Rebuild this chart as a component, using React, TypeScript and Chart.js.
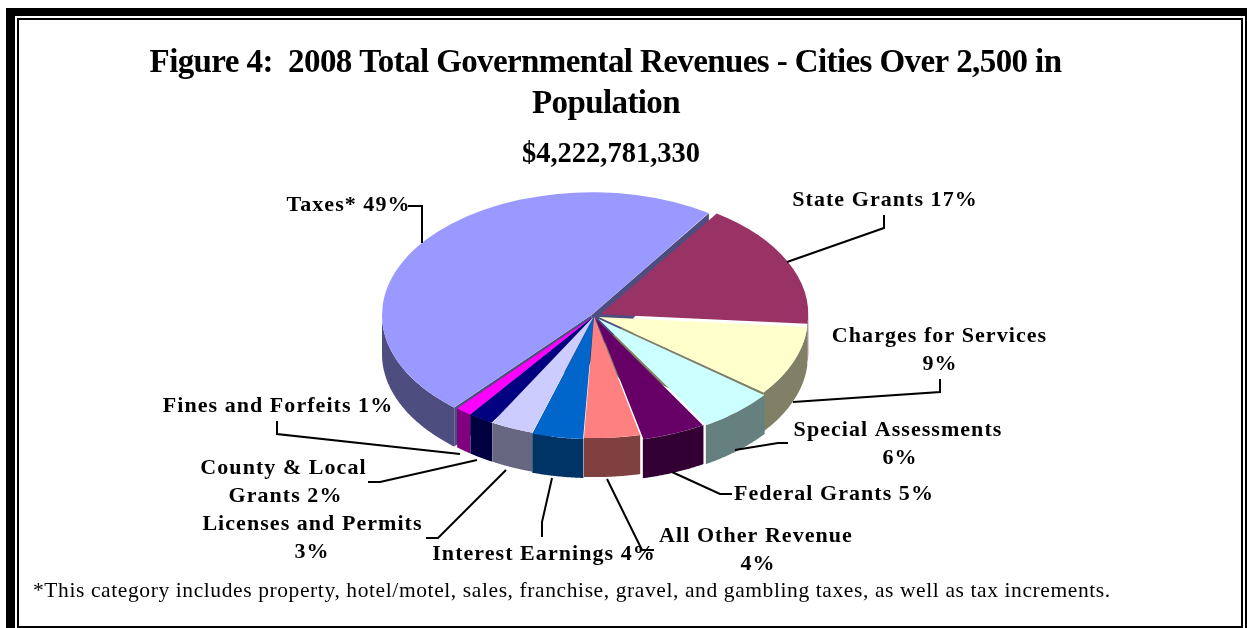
import React, { useEffect, useRef } from "react";
import { Chart, registerables } from "chart.js";

Chart.register(...registerables);

const categories = ["State Grants", "Charges for Services", "Special Assessments", "Federal Grants", "All Other Revenue", "Interest Earnings", "Licenses and Permits", "County & Local Grants", "Fines and Forfeits", "Taxes*"];
const shares = [17, 9.4, 6, 5, 4.4, 4, 3.4, 2, 1.3, 48.6];
const topColors = ["#993366", "#FFFFCC", "#CCFFFF", "#660066", "#FF8080", "#0066CC", "#CCCCFF", "#000080", "#FF00FF", "#9999FF"];
const wallColors = ["#4D1A33", "#808066", "#668080", "#330033", "#804040", "#003366", "#666680", "#000040", "#800080", "#4D4D80"];
const explode = [28, 20, 26, 22, 4, 8, 4, 4, 4, 12];
const endFaceExtent = [0.16, 1, 0.3, 0, 0, 1, 0, 0, 0, 1];
const endFaceColors = ["#4D4D80", "#808066", "#808066", "", "", "#003366", "", "", "", "#4D4D80"];

const titleLines = ["Figure 4:  2008 Total Governmental Revenues - Cities Over 2,500 in", "Population"];
const subtitle = "$4,222,781,330";
const footnote = "*This category includes property, hotel/motel, sales, franchise, gravel, and gambling taxes, as well as tax increments.";

const CX = 594, CY = 316, RADIUS = 207, SQUASH = 0.585, DEPTH = 39;

const labelLayout: [string, number, number][] = [
  ["Taxes* 49%", 348.5, 211],
  ["State Grants 17%", 885, 206],
  ["Charges for Services", 939.5, 342],
  ["9%", 940, 370],
  ["Special Assessments", 898, 436],
  ["6%", 900, 464],
  ["Federal Grants 5%", 834, 500],
  ["All Other Revenue", 756, 542],
  ["4%", 758, 570],
  ["Interest Earnings 4%", 544, 560],
  ["Licenses and Permits", 312.5, 530],
  ["3%", 312, 558],
  ["County & Local", 283.5, 474],
  ["Grants 2%", 285.5, 502],
  ["Fines and Forfeits 1%", 278, 412],
];

const leaderLayout: [number, number][][] = [
  [[408, 206], [422, 206], [422, 243]],
  [[787, 262], [884, 228], [884, 215]],
  [[793, 402], [940, 392], [940, 379]],
  [[735, 450], [778, 443], [788, 443]],
  [[672, 472], [720, 494], [732, 494]],
  [[607, 479], [642, 550], [654, 550]],
  [[552, 478], [542, 522], [542, 537]],
  [[506, 470], [438, 538], [426, 538]],
  [[477, 460], [380, 482], [368, 482]],
  [[460, 454], [277, 434], [277, 421]],
];

const pie3d = {
  id: "pie3d",
  beforeDatasetsDraw(chart: any) {
    const ctx = chart.ctx as CanvasRenderingContext2D;
    const arcs = chart.getDatasetMeta(0).data;
    // Arc elements shift by offset/4 along their mid-angle and grow slightly; follow the same geometry.
    const project = (a: any, angle: number, frac: number, drop: number): [number, number] => {
      const mid = (a.startAngle + a.endAngle) / 2;
      const off = (a.options.offset || 0) / 4;
      const sweep = a.endAngle - a.startAngle;
      const r = (a.outerRadius + off * (1 - Math.sin(Math.min(Math.PI, sweep)))) * frac;
      return [
        a.x + Math.cos(mid) * off + Math.cos(angle) * r,
        a.y + (Math.sin(mid) * off + Math.sin(angle) * r) * SQUASH + drop,
      ];
    };
    const face = (a: any, angle: number, frac: number, color: string) => {
      ctx.fillStyle = color;
      const p0 = project(a, angle, 0, 0);
      const p1 = project(a, angle, frac, 0);
      ctx.beginPath();
      ctx.moveTo(p0[0], p0[1]);
      ctx.lineTo(p1[0], p1[1]);
      ctx.lineTo(p1[0], p1[1] + DEPTH);
      ctx.lineTo(p0[0], p0[1] + DEPTH);
      ctx.closePath();
      ctx.fill();
    };
    // The largest slice's lower cut edge shows as a dark strip beside its neighbour.
    const last = arcs.length - 1;
    face(arcs[last], arcs[last].startAngle, 1, wallColors[last]);
    arcs.forEach((a: any, i: number) => {
      if (endFaceExtent[i] > 0) face(a, a.endAngle, endFaceExtent[i], endFaceColors[i]);
      const lo = Math.max(a.startAngle, 0);
      const hi = Math.min(a.endAngle, Math.PI);
      if (hi <= lo) return;
      ctx.fillStyle = wallColors[i];
      const n = 60;
      ctx.beginPath();
      for (let k = 0; k <= n; k++) {
        const p = project(a, lo + ((hi - lo) * k) / n, 1, 0);
        if (k === 0) ctx.moveTo(p[0], p[1]);
        else ctx.lineTo(p[0], p[1]);
      }
      for (let k = n; k >= 0; k--) {
        const p = project(a, lo + ((hi - lo) * k) / n, 1, DEPTH);
        ctx.lineTo(p[0], p[1]);
      }
      ctx.closePath();
      ctx.fill();
    });
    ctx.save();
    ctx.translate(CX, CY);
    ctx.scale(1, SQUASH);
    ctx.translate(-CX, -CY);
  },
  afterDatasetsDraw(chart: any) {
    chart.ctx.restore();
  },
  afterDraw(chart: any) {
    const ctx = chart.ctx as CanvasRenderingContext2D;
    ctx.save();
    ctx.fillStyle = "#000";
    ctx.fillRect(6, 8, 1241, 8);
    ctx.fillRect(6, 8, 9, 620);
    ctx.fillRect(17, 18, 1226, 2);
    ctx.fillRect(17, 18, 2, 610);
    ctx.fillRect(1241, 18, 2, 610);
    ctx.fillRect(1245, 8, 2, 620);
    ctx.fillRect(17, 626, 1226, 2);
    ctx.strokeStyle = "#000";
    ctx.lineWidth = 2;
    leaderLayout.forEach((pts) => {
      ctx.beginPath();
      pts.forEach((p, i) => (i ? ctx.lineTo(p[0], p[1]) : ctx.moveTo(p[0], p[1])));
      ctx.stroke();
    });
    ctx.fillStyle = "#000";
    ctx.textAlign = "center";
    ctx.textBaseline = "alphabetic";
    (ctx as any).letterSpacing = "-0.6px";
    ctx.font = "bold 33px 'Liberation Serif'";
    ctx.fillText(titleLines[0], 605.5, 72);
    ctx.fillText(titleLines[1], 606, 113);
    (ctx as any).letterSpacing = "0px";
    ctx.font = "bold 28.5px 'Liberation Serif'";
    ctx.fillText(subtitle, 611, 162);
    (ctx as any).letterSpacing = "1.05px";
    ctx.font = "bold 22px 'Liberation Serif'";
    labelLayout.forEach(([t, x, y]) => ctx.fillText(t, x, y));
    (ctx as any).letterSpacing = "0.6px";
    ctx.textAlign = "left";
    ctx.font = "21.5px 'Liberation Serif'";
    ctx.fillText(footnote, 33, 597);
    ctx.restore();
  },
};

export default function App() {
  const ref = useRef<HTMLCanvasElement>(null);
  useEffect(() => {
    const chart = new Chart(ref.current!, {
      type: "pie",
      data: {
        labels: categories,
        datasets: [
          {
            data: shares,
            backgroundColor: topColors,
            borderWidth: 0,
            offset: explode,
            clip: false as any,
          } as any,
        ],
      },
      options: {
        animation: false,
        responsive: false,
        rotation: 34,
        radius: RADIUS,
        layout: { padding: { left: 0, right: 1247 - 2 * CX, top: 2 * CY - 628, bottom: 0 } },
        plugins: { legend: { display: false }, tooltip: { enabled: false }, title: { display: false } },
      } as any,
      plugins: [pie3d],
    });
    return () => chart.destroy();
  }, []);
  return (
    <div style={{ position: "fixed", left: 0, top: 0, width: 1247, height: 628, background: "#fff" }}>
      <canvas ref={ref} width={1247} height={628} style={{ display: "block" }} />
    </div>
  );
}
